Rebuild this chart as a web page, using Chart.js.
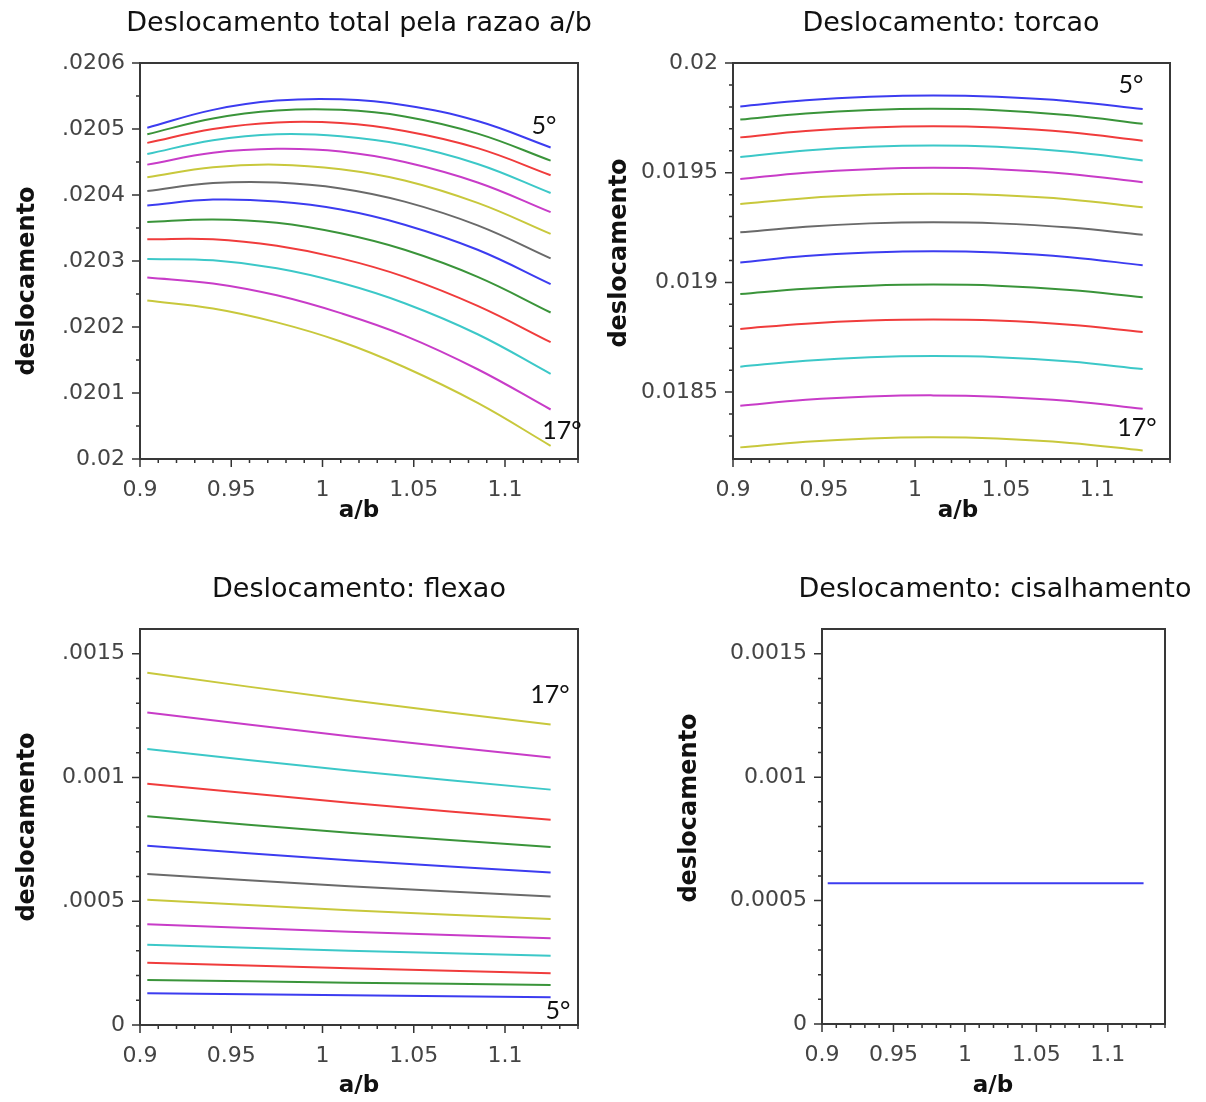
<!DOCTYPE html>
<html>
<head>
<meta charset="utf-8">
<script src="https://cdn.jsdelivr.net/npm/chart.js@4.4.1/dist/chart.umd.min.js"></script>
<style>
html, body { margin: 0; padding: 0; background: #fff; }
#page { position: relative; width: 1206px; height: 1102px; overflow: hidden; background: #fff; }
canvas { position: absolute; }
</style>
</head>
<body>
<div id="page">
  <canvas id="c1" width="603" height="540" style="left:0px;top:0px"></canvas>
  <canvas id="c2" width="603" height="540" style="left:603px;top:0px"></canvas>
  <canvas id="c3" width="603" height="562" style="left:0px;top:540px"></canvas>
  <canvas id="c4" width="603" height="562" style="left:603px;top:540px"></canvas>
</div>
<script>
// ---------------- data ----------------
const ratioX = [0.904, 0.94, 0.975, 1.01, 1.045, 1.085, 1.125];
const ratioXFlex = [0.904, 1.0145, 1.125];
const ratioXShear = [0.904, 1.125];

const angleLabels = ['5°','6°','7°','8°','9°','10°','11°','12°','13°','14°','15°','16°','17°'];

const lineColors = ['#3c3cf0','#3a943a','#f03c3c','#3cc8c8','#c83cc8','#c8c83c','#6a6a6a',
                    '#3c3cf0','#3a943a','#f03c3c','#3cc8c8','#c83cc8','#c8c83c'];

// Deslocamento total (one row per angle, 5° .. 17°)
const totalDisp = [
  [0.020502, 0.020529, 0.020543, 0.020545, 0.020536, 0.020512, 0.020472],
  [0.020492, 0.020516, 0.020528, 0.020529, 0.020519, 0.020493, 0.020452],
  [0.020479, 0.020500, 0.020510, 0.020509, 0.020497, 0.020471, 0.020430],
  [0.020462, 0.020483, 0.020492, 0.020489, 0.020476, 0.020447, 0.020403],
  [0.020446, 0.020464, 0.020470, 0.020466, 0.020450, 0.020419, 0.020374],
  [0.020427, 0.020442, 0.020446, 0.020439, 0.020422, 0.020388, 0.020341],
  [0.020406, 0.020418, 0.020419, 0.020410, 0.020390, 0.020354, 0.020304],
  [0.020384, 0.020393, 0.020390, 0.020378, 0.020355, 0.020317, 0.020265],
  [0.020359, 0.020363, 0.020358, 0.020342, 0.020317, 0.020276, 0.020222],
  [0.020333, 0.020333, 0.020323, 0.020304, 0.020276, 0.020232, 0.020177],
  [0.020303, 0.020301, 0.020289, 0.020267, 0.020236, 0.020189, 0.020129],
  [0.020275, 0.020266, 0.020248, 0.020221, 0.020187, 0.020136, 0.020075],
  [0.020240, 0.020228, 0.020207, 0.020178, 0.020139, 0.020085, 0.020020]
];

// Deslocamento: torcao
const torsionDisp = [
  [0.019802, 0.019830, 0.019846, 0.019852, 0.019846, 0.019826, 0.019790],
  [0.019742, 0.019770, 0.019786, 0.019791, 0.019785, 0.019762, 0.019723],
  [0.019661, 0.019690, 0.019706, 0.019712, 0.019706, 0.019684, 0.019646],
  [0.019572, 0.019601, 0.019618, 0.019624, 0.019618, 0.019595, 0.019556],
  [0.019471, 0.019500, 0.019516, 0.019522, 0.019516, 0.019494, 0.019456],
  [0.019357, 0.019384, 0.019399, 0.019404, 0.019398, 0.019378, 0.019342],
  [0.019228, 0.019254, 0.019269, 0.019274, 0.019269, 0.019250, 0.019217],
  [0.019091, 0.019120, 0.019136, 0.019142, 0.019136, 0.019115, 0.019078],
  [0.018947, 0.018971, 0.018985, 0.018990, 0.018985, 0.018965, 0.018932],
  [0.018788, 0.018812, 0.018826, 0.018831, 0.018826, 0.018807, 0.018774],
  [0.018616, 0.018643, 0.018659, 0.018664, 0.018659, 0.018639, 0.018605],
  [0.018438, 0.018465, 0.018480, 0.018485, 0.018479, 0.018459, 0.018424],
  [0.018248, 0.018274, 0.018289, 0.018294, 0.018288, 0.018268, 0.018234]
];

// Deslocamento: flexao
const bendingDisp = [
  [0.000128, 0.000120, 0.000112],
  [0.000182, 0.000171, 0.000162],
  [0.000252, 0.000229, 0.000209],
  [0.000324, 0.000300, 0.000280],
  [0.000407, 0.000377, 0.000351],
  [0.000506, 0.000464, 0.000428],
  [0.000610, 0.000561, 0.000519],
  [0.000724, 0.000666, 0.000616],
  [0.000843, 0.000777, 0.000719],
  [0.000975, 0.000898, 0.000829],
  [0.001115, 0.001028, 0.000951],
  [0.001263, 0.001167, 0.001081],
  [0.001423, 0.001313, 0.001214]
];

// Deslocamento: cisalhamento
const shearDisp = [0.000570, 0.000570];

// ticks
const xTickValues = [0.9, 0.95, 1, 1.05, 1.1];
const xTickLabels = ['0.9', '0.95', '1', '1.05', '1.1'];
const yTicksTotal = [0.02, 0.0201, 0.0202, 0.0203, 0.0204, 0.0205, 0.0206];
const yLabelsTotal = ['0.02', '.0201', '.0202', '.0203', '.0204', '.0205', '.0206'];
const yTicksTorsion = [0.0185, 0.019, 0.0195, 0.02];
const yLabelsTorsion = ['0.0185', '0.019', '0.0195', '0.02'];
const yTicksFlex = [0, 0.0005, 0.001, 0.0015];
const yLabelsFlex = ['0', '.0005', '0.001', '.0015'];
const yLabelsShear = ['0', '0.0005', '0.001', '0.0015'];

// ---------------- helpers ----------------
function minorList(start, end, step, majors) {
  const out = [];
  const n = Math.round((end - start) / step);
  for (let i = 0; i <= n; i++) {
    const v = +(start + i * step).toFixed(8);
    if (!majors.some(m => Math.abs(m - v) < step / 10)) out.push(v);
  }
  return out;
}
const xMinor = minorList(0.91, 1.14, 0.01, xTickValues);

const deco = {
  id: 'deco',
  afterDraw(chart, args, o) {
    const { ctx, chartArea: a, scales: { x, y } } = chart;
    ctx.save();
    ctx.strokeStyle = '#333';
    ctx.lineWidth = 1.5;
    ctx.beginPath();
    xTickValues.forEach(v => { const p = x.getPixelForValue(v); ctx.moveTo(p, a.bottom); ctx.lineTo(p, a.bottom + 8); });
    xMinor.forEach(v => { const p = x.getPixelForValue(v); ctx.moveTo(p, a.bottom); ctx.lineTo(p, a.bottom + 4); });
    o.yMajor.forEach(v => { const p = y.getPixelForValue(v); ctx.moveTo(a.left, p); ctx.lineTo(a.left - 8, p); });
    o.yMinor.forEach(v => { const p = y.getPixelForValue(v); ctx.moveTo(a.left, p); ctx.lineTo(a.left - 4, p); });
    ctx.stroke();
    ctx.lineWidth = 2;
    ctx.strokeStyle = '#383838';
    ctx.strokeRect(a.left, a.top, a.right - a.left, a.bottom - a.top);
    o.texts.forEach(t => {
      ctx.save();
      ctx.translate(t.x, t.y);
      if (t.rot) ctx.rotate(t.rot);
      ctx.font = t.font;
      ctx.fillStyle = t.color || '#111';
      ctx.textAlign = 'center';
      ctx.textBaseline = 'middle';
      ctx.fillText(t.text, 0, 0);
      ctx.restore();
    });
    ctx.restore();
  }
};

function makeSets(xs, rows) {
  return rows.map((r, i) => ({
    label: angleLabels[i],
    data: xs.map((xv, j) => ({ x: xv, y: r[j] })),
    borderColor: lineColors[i],
    borderWidth: 2,
    pointRadius: 0,
    tension: 0.4,
    fill: false
  }));
}

const tickFont = { family: 'DejaVu Sans', size: 22 };
const TITLE_FONT = '27px "DejaVu Sans"';
const AX_FONT = 'bold 24px "DejaVu Sans"';
const AB_FONT = 'bold 23px "DejaVu Sans"';
const DEG_FONT = '25px Lato';

function makeChart(id, datasets, cfg) {
  return new Chart(document.getElementById(id), {
    type: 'line',
    data: { datasets },
    plugins: [deco],
    options: {
      responsive: false,
      animation: false,
      devicePixelRatio: 1,
      layout: { padding: { top: cfg.top, right: cfg.right, left: 0, bottom: 0 } },
      plugins: {
        legend: { display: false },
        tooltip: { enabled: false },
        title: { display: false },
        deco: cfg.deco
      },
      scales: {
        x: {
          type: 'linear', min: 0.9, max: 1.14,
          grid: { display: false, drawTicks: false },
          border: { display: false },
          afterBuildTicks: s => { s.ticks = xTickValues.map(v => ({ value: v })); },
          ticks: { autoSkip: false, maxRotation: 0, minRotation: 0, padding: 18, color: '#444', font: tickFont,
                   callback: (v, i) => xTickLabels[i] },
          afterFit: s => { s.height = cfg.bottomH; }
        },
        y: {
          type: 'linear', min: cfg.ymin, max: cfg.ymax,
          grid: { display: false, drawTicks: false },
          border: { display: false },
          afterBuildTicks: s => { s.ticks = cfg.yTicks.map(v => ({ value: v })); },
          ticks: { autoSkip: false, padding: 15, color: '#444', font: tickFont,
                   callback: (v, i) => cfg.yLabels[i] },
          afterFit: s => { s.width = cfg.leftW; }
        }
      }
    }
  });
}

makeChart('c1', makeSets(ratioX, totalDisp), {
  top: 63, right: 25, bottomH: 81, leftW: 140,
  ymin: 0.02, ymax: 0.0206, yTicks: yTicksTotal, yLabels: yLabelsTotal,
  deco: {
    yMajor: yTicksTotal, yMinor: minorList(0.02005, 0.02055, 0.0001, []),
    texts: [
      { text: 'Deslocamento total pela razao a/b', x: 359, y: 24, font: TITLE_FONT },
      { text: 'deslocamento', x: 28, y: 281, rot: -Math.PI / 2, font: AX_FONT },
      { text: 'a/b', x: 359, y: 511, font: AB_FONT },
      { text: '5°', x: 544, y: 126, font: DEG_FONT },
      { text: '17°', x: 562, y: 431, font: DEG_FONT }
    ]
  }
});

makeChart('c2', makeSets(ratioX, torsionDisp), {
  top: 63, right: 36, bottomH: 81, leftW: 130,
  ymin: 0.018195, ymax: 0.02, yTicks: yTicksTorsion, yLabels: yLabelsTorsion,
  deco: {
    yMajor: yTicksTorsion, yMinor: minorList(0.0183, 0.0199, 0.0001, yTicksTorsion),
    texts: [
      { text: 'Deslocamento: torcao', x: 348, y: 24, font: TITLE_FONT },
      { text: 'deslocamento', x: 17, y: 253, rot: -Math.PI / 2, font: AX_FONT },
      { text: 'a/b', x: 355, y: 511, font: AB_FONT },
      { text: '5°', x: 528, y: 85, font: DEG_FONT },
      { text: '17°', x: 534, y: 428, font: DEG_FONT }
    ]
  }
});

makeChart('c3', makeSets(ratioXFlex, bendingDisp), {
  top: 89, right: 25, bottomH: 77, leftW: 140,
  ymin: 0, ymax: 0.0016, yTicks: yTicksFlex, yLabels: yLabelsFlex,
  deco: {
    yMajor: yTicksFlex, yMinor: minorList(0.0001, 0.0015, 0.0001, yTicksFlex),
    texts: [
      { text: 'Deslocamento: flexao', x: 359, y: 50, font: TITLE_FONT },
      { text: 'deslocamento', x: 28, y: 287, rot: -Math.PI / 2, font: AX_FONT },
      { text: 'a/b', x: 359, y: 546, font: AB_FONT },
      { text: '17°', x: 550, y: 155, font: DEG_FONT },
      { text: '5°', x: 558, y: 471, font: DEG_FONT }
    ]
  }
});

makeChart('c4', [{
  label: 'cisalhamento',
  data: ratioXShear.map((xv, j) => ({ x: xv, y: shearDisp[j] })),
  borderColor: lineColors[0], borderWidth: 2, pointRadius: 0, fill: false
}], {
  top: 89, right: 41, bottomH: 78, leftW: 219,
  ymin: 0, ymax: 0.0016, yTicks: yTicksFlex, yLabels: yLabelsShear,
  deco: {
    yMajor: yTicksFlex, yMinor: minorList(0.0001, 0.0015, 0.0001, yTicksFlex),
    texts: [
      { text: 'Deslocamento: cisalhamento', x: 392, y: 50, font: TITLE_FONT },
      { text: 'deslocamento', x: 87, y: 268, rot: -Math.PI / 2, font: AX_FONT },
      { text: 'a/b', x: 390, y: 546, font: AB_FONT }
    ]
  }
});
</script>
</body>
</html>
